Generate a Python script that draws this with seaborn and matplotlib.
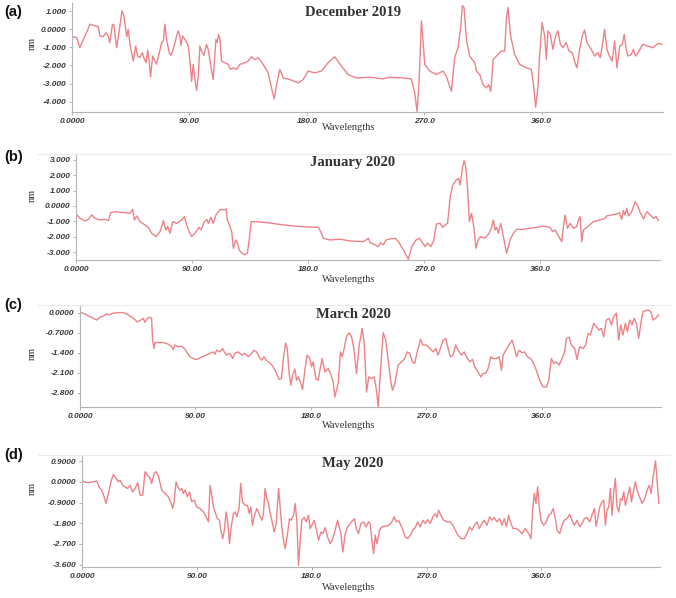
import matplotlib
matplotlib.use("Agg")
import matplotlib.pyplot as plt
import seaborn as sns
import pandas as pd
from matplotlib.lines import Line2D

# ---------------- data ----------------
dec_x = [0, 3.6, 6, 8.7, 11.7, 13.8, 17.6, 20, 21.4, 24, 26, 27.8, 29, 30.9, 32, 34.2, 36, 38.3, 39.8, 41.9,
         43.1, 44.4, 47, 48.8, 50.3, 52, 53.9, 55.1, 56.7, 58, 59, 60.2, 61.8, 63, 64.8, 66.6, 68.7, 70, 71.2,
         72.5, 74.5, 75.8, 77.6, 80.2, 81.4, 82.7, 83.5, 84.8, 87.3, 89.1, 90.4, 91.7, 92.9, 94.2, 95.5, 96.8,
         98, 99.3, 101.1, 103.1, 104.4, 106.2, 108.2, 110.3, 111.3, 112.3, 113.4, 114.6, 117.2, 119.7, 121.5,
         123.6, 126.1, 128.7, 132.5, 135, 137.6, 140.2, 142.7, 146.5, 150.4, 152.9, 155, 156.8, 159.3, 161.9,
         167, 173.4, 177.2, 181, 186.1, 191.2, 196.3, 201.4, 206.5, 211.6, 218, 228.3, 238.4, 243.6, 253.8,
         260.1, 262.7, 264.5, 266, 267.8, 269, 270.4, 274.2, 279.3, 284.4, 286.9, 290.8, 293.3, 295.9, 297.9,
         299.2, 300.5, 302.3, 304.8, 308.7, 310, 312.5, 315.1, 317.6, 319.4, 321, 322.8, 326.5, 329.1, 331.7,
         332.9, 334.2, 336, 337.3, 339.3, 343.1, 348.2, 352.1, 353.9, 355.4, 357.2, 358.5, 360.3, 362.3, 363.6,
         364.8, 366.6, 368.6, 370.7, 372.5, 374.3, 376.3, 378.8, 380.9, 383.4, 385.2, 387, 389.1, 391.1, 392.9,
         394.7, 398, 400.6, 403.1, 404.9, 406.4, 408.2, 410, 412, 414.1, 415.9, 417.7, 419.8, 421.8, 423.3,
         424.8, 426.1, 428.7, 430.4, 432, 433.8, 437.6, 441.4, 445.3, 449.1, 452.5]
dec_y = [-0.41, -0.46, -1.02, -0.56, -0.09, 0.28, 0.19, 0.15, -0.37, -0.41, -0.19, -0.37, -0.74, 0.22, 0.28,
         -1.02, -0.19, 1.02, 0.74, -0.41, 0, -0.83, -1.76, -0.93, -1.48, -1.57, -1.3, -1.57, -1.85, -1.15,
         -1.67, -2.63, -1.48, -1.67, -1.94, -1.39, -0.74, -0.65, 0.28, -0.56, -1.3, -1.44, -1.11, -0.37, -0.09,
         -0.37, -0.89, -0.37, -0.65, -0.93, -1.76, -2.87, -1.94, -2.78, -3.37, -2.59, -0.93, -1.2, -1.44,
         -0.83, -1.11, -1.94, -2.78, -0.56, -0.74, -0.28, -0.56, -1.76, -1.85, -1.94, -2.22, -2.13, -2.22,
         -1.94, -1.85, -1.76, -1.52, -1.67, -1.57, -1.94, -2.41, -3.24, -3.85, -3.06, -2.22, -2.69, -2.78,
         -2.96, -2.78, -2.31, -2.41, -2.31, -1.85, -1.52, -2.04, -2.5, -2.69, -2.65, -2.74, -2.65, -2.69,
         -2.74, -3.52, -4.54, -2.96, 0.46, -0.56, -1.94, -2.31, -2.5, -2.31, -2.59, -3.43, -1.57, -1.02, 0.09,
         1.3, 1.2, -0.56, -1.48, -1.85, -2.31, -2.5, -3.06, -3.24, -3.06, -3.43, -1.67, -1.39, -1.2, -1.2, 0.56,
         1.2, -0.28, -0.74, -1.39, -1.94, -2.13, -2.22, -3.15, -4.3, -3.15, -1.39, 0.37, -0.37, -1.67, -0.09,
         -0.28, -1.11, -0.37, -0.09, -0.83, -1.02, -0.74, -1.2, -1.3, -1.76, -2.13, -1.11, -0.37, -0.04, -0.74,
         -1.11, -1.48, -1.3, -1.57, -0.93, 0, -1.11, -1.48, -1.76, -0.65, -2.13, -0.93, -0.83, -0.28, -1.11,
         -1.48, -1.39, -1.11, -1.48, -1.3, -0.83, -0.93, -1.02, -0.78, -0.83]

jan_x = [0, 3.1, 7, 9.6, 12.2, 14.7, 18.6, 22.5, 25.1, 26.9, 30.3, 36.7, 41.9, 44, 45.3, 47.1, 49.7, 53.5, 56.1,
         58.7, 62.1, 65.2, 67.8, 69.6, 71.1, 72.9, 75, 78.1, 82, 84, 85.9, 87.7, 89.7, 92.3, 95.4, 97, 99.3,
         101.4, 102.7, 104.5, 106.5, 108.6, 110.4, 112.2, 114.8, 116.4, 117.4, 119, 120.8, 122.1, 123.9, 125.2,
         126.7, 128.5, 131.1, 132.9, 134.5, 135.8, 138.9, 147.9, 160.8, 173.8, 188, 189.8, 191.9, 197, 204.8,
         212.6, 222.9, 226.8, 228.1, 230.7, 234.5, 236.4, 238.4, 240.5, 243.6, 247.5, 250.1, 254, 257.8, 260.4,
         263.8, 266.4, 269, 270.8, 272.6, 275.4, 277.5, 279.6, 282.4, 284.6, 286.4, 288.2, 290.3, 292.3, 295,
         296.7, 298, 299.9, 301.1, 302.3, 303.8, 305.1, 306.8, 308.7, 310.2, 312, 313.8, 317.2, 320.5, 322.4,
         323.7, 325, 326.3, 327.6, 329.4, 331.5, 334, 336.7, 339.3, 341.9, 347, 352.2, 357.4, 362.6, 367.7,
         369.8, 371.6, 374.2, 376.8, 378.1, 379.4, 381.2, 383.3, 385.9, 388.4, 389.7, 391, 392.3, 393.6, 396.2,
         401.3, 406.5, 410.4, 411.7, 415.6, 419.5, 421.5, 423.3, 424.6, 425.9, 427.2, 428.5, 431.1, 433.7,
         435.5, 437.6, 440.2, 442.8, 445.4, 448, 450, 451.8]
jan_y = [-0.52, -0.8, -0.97, -0.87, -0.58, -0.8, -0.91, -0.87, -0.95, -0.43, -0.37, -0.43, -0.48, -0.22, -0.91,
         -0.65, -1.02, -1.23, -1.39, -1.77, -1.99, -1.67, -0.95, -1.56, -1.34, -1.77, -1.02, -1.13, -0.91,
         -0.69, -1.23, -1.67, -1.99, -1.77, -1.39, -1.56, -1.08, -0.87, -1.13, -0.74, -1.13, -0.58, -0.37,
         -0.22, -0.26, -0.19, -0.91, -1.23, -1.67, -2.75, -2.21, -2.42, -2.86, -3.07, -3.18, -3.07, -2.1,
         -1.02, -1.02, -1.08, -1.23, -1.34, -1.39, -1.67, -2.1, -2.21, -2.16, -2.27, -2.32, -2.1, -2.38, -2.47,
         -2.64, -2.38, -2.53, -2.21, -2.14, -2.1, -2.32, -2.86, -3.46, -2.64, -2.21, -2.1, -2.42, -2.64, -2.42,
         -2.64, -2.21, -1.17, -1.13, -1.39, -1.23, -1.13, 0.61, 1.36, 1.69, 1.8, 1.36, 2.55, 2.94, 2.55, 1.04,
         -1.02, -0.48, -1.45, -2.75, -2.21, -1.99, -2.1, -1.77, -1.39, -0.91, -1.56, -1.39, -1.77, -1.13,
         -1.99, -3.07, -2.21, -1.77, -1.52, -1.52, -1.45, -1.39, -1.3, -1.39, -1.67, -1.56, -1.95, -2.32,
         -1.34, -0.58, -1.45, -1.13, -1.45, -1.34, -0.91, -0.69, -2.32, -1.56, -1.39, -1.02, -0.91, -0.8,
         -0.65, -0.58, -0.52, -0.43, -0.87, -0.3, -0.58, -0.15, -0.65, -0.37, 0.28, 0.06, -0.43, -0.84, -0.37,
         -0.58, -0.8, -0.69, -0.95]

mar_x = [0.8, 3.9, 7.8, 13, 15.6, 18.2, 20.8, 22.1, 26, 29.9, 33.8, 37.7, 41.6, 44.7, 47.3, 49.4, 50.6, 52.5,
         54.5, 55.8, 56.6, 57.7, 58.4, 59.7, 64.9, 68.8, 71.4, 72.7, 74, 76.6, 79.2, 81.8, 83.6, 85.7, 89.6,
         92.2, 96.1, 100, 103.9, 105.2, 106.5, 109.1, 111.2, 112.5, 114.3, 116.9, 119, 120.8, 123.4, 126,
         128.6, 131.2, 133.8, 135.6, 137.7, 139.7, 141.6, 143.4, 145.5, 148.1, 150.6, 153.2, 155.3, 157.1,
         158.4, 160.3, 161.6, 163.1, 164.4, 165.7, 167.5, 168.8, 170.1, 171.9, 173.5, 175.3, 177.1, 179.2,
         180.5, 181.8, 183.9, 185.7, 187, 188.8, 190.9, 193.5, 195.3, 197.4, 198.7, 201.3, 203.1, 204.4,
         205.7, 207.8, 209.9, 211.7, 213.5, 215.6, 217.7, 220, 221.6, 223.4, 225.2, 227.3, 229.4, 231.2,
         232.5, 234.3, 236.4, 238.4, 240.3, 242.1, 243.6, 245.5, 248, 250.6, 253.2, 255.1, 257.1, 259.2, 261,
         262.9, 265.5, 267.5, 270.1, 272.7, 275.3, 277.4, 279.2, 281, 283.1, 285.2, 287, 288.8, 290.9, 292.9,
         294.8, 297.4, 299.5, 301.3, 303.9, 306, 307.8, 310.4, 312.5, 314.3, 316.4, 318.2, 320.3, 322.1,
         324.7, 326.8, 328.6, 329.9, 332, 334.5, 336.9, 338.4, 340.3, 342.3, 344.7, 346.8, 348.8, 351.4,
         353.2, 355.8, 358.4, 361, 363.6, 365.5, 367.5, 369.4, 371.4, 373.5, 375.3, 377.9, 379.2, 381.3,
         383.1, 385.7, 387.5, 389.6, 392.2, 394.3, 396.1, 397.9, 400.5, 402.6, 404.7, 406.5, 408.3, 410.4,
         412.5, 414.3, 416.1, 418.2, 420, 421.6, 423.4, 425.2, 426.8, 428.6, 430.4, 432, 433.8, 435.6, 437.7,
         439, 441, 442.9, 445, 446.8, 448.8, 451.2]
mar_y = [0, -0.05, -0.14, -0.26, -0.16, -0.12, -0.05, -0.08, -0.02, 0, 0, -0.08, -0.2, -0.32, -0.26, -0.2,
         -0.34, -0.2, -0.16, -0.2, -0.96, -1.25, -1.05, -1.04, -1.04, -1.1, -1.19, -1.28, -1.13, -1.19, -1.17,
         -1.27, -1.4, -1.54, -1.63, -1.61, -1.52, -1.45, -1.37, -1.45, -1.31, -1.37, -1.25, -1.37, -1.48,
         -1.42, -1.6, -1.42, -1.37, -1.48, -1.42, -1.54, -1.42, -1.31, -1.37, -1.54, -1.66, -1.54, -1.68,
         -1.75, -1.89, -2.12, -2.33, -2.3, -1.66, -1.07, -1.25, -2.12, -2.53, -2.18, -1.97, -2.36, -2.24,
         -2.42, -2.68, -2.01, -1.48, -1.6, -1.89, -1.72, -2.3, -2.36, -2.01, -1.6, -2.07, -1.95, -2.12, -2.42,
         -2.94, -2.47, -1.37, -1.54, -1.31, -0.84, -0.7, -0.84, -1.25, -2.12, -1.13, -0.55, -1.07, -2.77,
         -2.24, -2.3, -2.24, -2.71, -3.29, -2.01, -0.7, -0.96, -1.66, -2.33, -2.71, -2.47, -1.83, -1.72, -1.6,
         -1.37, -1.42, -1.72, -1.77, -1.37, -0.93, -1.13, -1.13, -1.25, -1.37, -1.25, -1.48, -1.25, -0.96,
         -0.9, -1.25, -1.54, -1.48, -1.13, -1.31, -1.48, -1.37, -1.54, -1.72, -1.63, -1.89, -2.07, -2.24,
         -2.12, -2.12, -1.95, -1.54, -1.6, -1.6, -1.54, -2.01, -1.48, -1.31, -1.13, -0.96, -1.19, -1.54,
         -1.31, -1.4, -1.37, -1.54, -1.6, -1.72, -2.01, -2.36, -2.59, -2.59, -2.36, -1.6, -1.77, -1.72, -1.83,
         -1.66, -1.37, -0.9, -0.86, -1.13, -1.25, -1.63, -1.19, -1.25, -1.13, -0.72, -0.78, -0.37, -0.49,
         -0.61, -0.55, -0.84, -0.26, -0.2, -0.43, -0.14, -0.02, -0.96, -0.43, -0.78, -0.37, -0.67, -0.26,
         -0.43, -0.2, -0.37, -0.9, -0.26, 0.03, 0.07, 0.09, 0.03, -0.26, -0.2, -0.08]

may_x = [0, 1, 5, 8.9, 11.5, 13.3, 15.4, 17.3, 18.8, 20.7, 22.7, 24.6, 26.7, 28.5, 29.8, 31.9, 33.7, 35.8,
         37.6, 39.7, 41.6, 43.7, 45.5, 47.6, 49.4, 51.2, 52.8, 54.6, 56.5, 58, 59.9, 62.5, 65.1, 67.7, 69.5,
         71.1, 72.2, 73.7, 75, 76.9, 78.2, 79.5, 80.8, 82.6, 84.2, 86, 88.1, 89.9, 92.5, 95.2, 97.3, 99.1,
         100.4, 101.7, 103, 104.3, 106.1, 107.7, 108.8, 110.3, 111.6, 112.9, 114.2, 115.6, 116.9, 118.7, 120,
         121.3, 123.1, 124.4, 125.8, 127.8, 129.7, 131, 132.3, 133.6, 134.9, 137, 138.8, 140.9, 142.2, 143.5,
         144.8, 146.1, 147.5, 148.8, 150.6, 152.2, 154.1, 155.3, 156.6, 157.9, 159.2, 161.1, 162.6, 163.9,
         165.8, 167.1, 168.4, 169.7, 171, 172.3, 174.1, 175.7, 177.5, 178.8, 180.1, 182, 183.5, 185.4, 187.2,
         188.8, 190.6, 192.4, 194.5, 196.6, 198.4, 200.3, 202.9, 204.4, 206.3, 208.1, 210.2, 212.3, 213.6,
         214.9, 216.7, 218.6, 220.7, 222.7, 224.5, 225.9, 227.2, 228.5, 229.8, 231.1, 233.2, 235, 237.6,
         240.3, 242.9, 244.7, 246.3, 248.1, 249.9, 251.5, 253.3, 255.2, 257.3, 259.3, 261.2, 263, 265.1,
         267.2, 269, 270.9, 272.9, 275, 276.9, 278.2, 279.5, 281.3, 283.4, 286, 288.6, 290.7, 292.5, 294.6,
         297.3, 299.6, 301.7, 303.8, 305.6, 307.5, 309.5, 311.4, 313.5, 315.3, 317.4, 319.5, 321.3, 323.1,
         325.2, 327.3, 329.2, 331, 332.6, 334.4, 335.7, 337.8, 340.4, 342.2, 344.8, 347.5, 350.1, 351.9,
         353.2, 354.5, 355.8, 357.1, 358.4, 359.7, 361.8, 363.9, 365.7, 367.6, 369.2, 371, 372.3, 374.4,
         376.2, 378, 380.1, 382.2, 384, 385.9, 388, 390.1, 391.9, 393.7, 395.8, 397.9, 399.7, 401.6, 402.9,
         404.2, 405.8, 407.6, 408.9, 410.2, 411.5, 412.8, 414.1, 415.4, 416.7, 418, 419.3, 420.7, 422, 423.3,
         424.6, 425.9, 427.2, 429.3, 430.6, 432.4, 433.7, 435, 436.9, 439, 441.1, 442.9, 444.7, 446, 447.6,
         449.5, 450.7, 452.1]
may_y = [0.15, 0, -0.04, 0, 0.04, -0.22, -0.36, -0.65, -0.94, -0.51, 0, 0.32, 0.15, 0, 0.07, -0.15, -0.22,
         -0.29, -0.15, -0.44, -0.29, -0.04, -0.58, -0.58, 0.44, 0.29, 0.22, -0.07, 0.36, 0.44, 0.25, -0.36,
         -0.51, -0.65, -0.87, -1.16, -0.87, 0, -0.22, -0.36, -0.29, -0.51, -0.36, -0.65, -0.44, -0.87, -0.8,
         -1.09, -1.16, -1.31, -1.52, -1.74, -0.15, -0.58, -1.09, -1.31, -1.6, -1.67, -2.1, -2.47, -2.1, -1.31,
         -1.74, -2.69, -1.96, -1.38, -1.31, -1.52, -1.16, -0.07, -0.87, -1.02, -1.02, -1.38, -1.09, -1.89,
         -1.52, -1.16, -1.38, -1.67, -1.38, -0.29, -0.73, -0.94, -1.38, -1.67, -2.18, -1.81, -0.29, -1.09,
         -1.96, -2.54, -2.9, -2.25, -1.6, -1.67, -1.45, -0.94, -1.74, -3.63, -2.54, -1.67, -1.55, -1.74, -1.45,
         -2.03, -1.89, -1.67, -2.03, -2.54, -2.18, -2.25, -1.99, -2.39, -2.69, -2.47, -2.1, -1.67, -2.25,
         -3.05, -2.25, -1.96, -1.81, -1.67, -1.6, -2.03, -2.25, -1.81, -1.74, -1.96, -1.74, -1.81, -2.54,
         -3.12, -2.32, -2.69, -2.1, -1.96, -1.93, -1.89, -1.74, -1.52, -1.74, -1.67, -1.89, -2.1, -2.39, -2.47,
         -2.32, -2.1, -1.99, -1.74, -1.96, -1.67, -1.81, -1.64, -1.81, -1.52, -1.38, -1.55, -1.23, -1.45,
         -1.67, -1.74, -1.74, -1.89, -2.1, -2.32, -2.47, -2.47, -2.25, -1.96, -2.1, -1.89, -1.74, -2.03,
         -1.81, -1.67, -1.89, -1.52, -1.67, -1.55, -1.74, -1.6, -1.89, -1.6, -1.96, -1.45, -1.74, -2.03,
         -2.03, -2.1, -2.25, -2.03, -2.25, -2.47, -1.23, -0.51, -0.94, -0.22, -1.09, -1.67, -1.89, -1.74,
         -1.45, -1.38, -1.16, -1.6, -2.1, -2.25, -1.89, -1.67, -1.6, -1.41, -1.67, -1.89, -1.67, -1.96, -1.81,
         -1.6, -1.55, -1.74, -1.45, -1.16, -1.93, -1.6, -1.09, -0.87, -0.8, -1.89, -1.23, -1.09, -0.29, -1.45,
         -0.51, 0.15, -1.09, -1.31, -0.73, -0.8, -0.44, -1.02, -0.73, -0.22, -0.87, -0.36, 0, -0.36, -0.65,
         -0.94, -0.73, -0.36, -0.15, -0.51, 0.22, 0.91, 0.07, -0.94]

titles = ["December 2019", "January 2020", "March 2020", "May 2020"]
panel_tags = ["(a)", "(b)", "(c)", "(d)"]
xticks = [0, 90, 180, 270, 360]
xtick_labels = ["0.0000", "90.00", "180.0", "270.0", "360.0"]
yticks = [[1, 0, -1, -2, -3, -4],
          [3, 2, 1, 0, -1, -2, -3],
          [0, -0.7, -1.4, -2.1, -2.8],
          [0.9, 0, -0.9, -1.8, -2.7, -3.6]]
ytick_labels = [["1.000", "0.0000", "-1.000", "-2.000", "-3.000", "-4.000"],
                ["3.000", "2.000", "1.000", "0.0000", "-1.000", "-2.000", "-3.000"],
                ["0.0000", "-0.7000", "-1.400", "-2.100", "-2.800"],
                ["0.9000", "0.0000", "-0.9000", "-1.800", "-2.700", "-3.600"]]
ylims = [(-4.57, 1.45), (-3.51, 3.31), (-3.29, 0.23), (-3.70, 1.12)]
series = [(dec_x, dec_y), (jan_x, jan_y), (mar_x, mar_y), (may_x, may_y)]

# ---------------- layout (pixels) ----------------
W, H = 676, 598
boxes = [(72, 663, 3, 112), (76, 660, 155, 260), (80, 661, 306, 407), (82, 660, 456, 567)]
title_y = [12, 163, 314, 464]
xlab_y = [127, 280, 425, 587]
tag_y = [12, 157, 305, 455]
nm_y = [43, 195, 353, 488]

sns.set_theme(style="white")
plt.rcParams['font.family'] = ['DejaVu Sans']
fig = plt.figure(figsize=(W / 100, H / 100), dpi=100)
fig.patch.set_facecolor("white")

line_color = "#ec7c82"
for i, ((xs, ys), (l, r, t, b)) in enumerate(zip(series, boxes)):
    ax = fig.add_axes([l / W, 1 - b / H, (r - l) / W, (b - t) / H])
    df = pd.DataFrame({"x": xs, "y": ys})
    sns.lineplot(data=df, x="x", y="y", ax=ax, color=line_color, lw=1.0,
                 estimator=None, sort=False, alpha=0.95)
    ax.set_xlim(0, 453)
    ax.set_ylim(*ylims[i])
    ax.set_xlabel("")
    ax.set_ylabel("")
    ax.set_xticks(xticks)
    ax.set_xticklabels(xtick_labels, fontsize=6, style="italic", fontweight="bold",
                       color="#3a3a3a", family="Liberation Sans")
    ax.set_yticks(yticks[i])
    ax.set_yticklabels(ytick_labels[i], fontsize=6, style="italic", fontweight="bold",
                       color="#3a3a3a", family="Liberation Sans")
    ax.tick_params(axis="both", length=2, width=0.6, color="#aaaaaa", pad=2, left=True, bottom=True)
    for s in ["top", "right"]:
        ax.spines[s].set_visible(False)
    for s in ["left", "bottom"]:
        ax.spines[s].set_color("#b5b5b5")
        ax.spines[s].set_linewidth(0.8)
    ax.set_facecolor("none")

    fig.text(353 / W, 1 - title_y[i] / H, titles[i], ha="center", va="center",
             fontsize=10.5, fontweight="bold", family="Liberation Serif", color="#333333")
    fig.text(349 / W, 1 - xlab_y[i] / H, "Wavelengths", ha="center", va="center",
             fontsize=7.5, family="Liberation Serif", color="#333333")
    fig.text(32 / W, 1 - nm_y[i] / H, "nm", ha="center", va="center", rotation=90,
             fontsize=7.5, family="Liberation Serif", color="#333333")
    fig.text(4 / W, 1 - tag_y[i] / H, panel_tags[i], ha="left", va="center",
             fontsize=10.5, fontweight="bold", family="Liberation Sans", color="#111111")
    if i > 0:
        fig.add_artist(Line2D([38 / W, 670 / W], [1 - (t - 1) / H, 1 - (t - 1) / H],
                              color="#ececec", lw=0.8))

fig.savefig("out.png", dpi=100, facecolor="white")
